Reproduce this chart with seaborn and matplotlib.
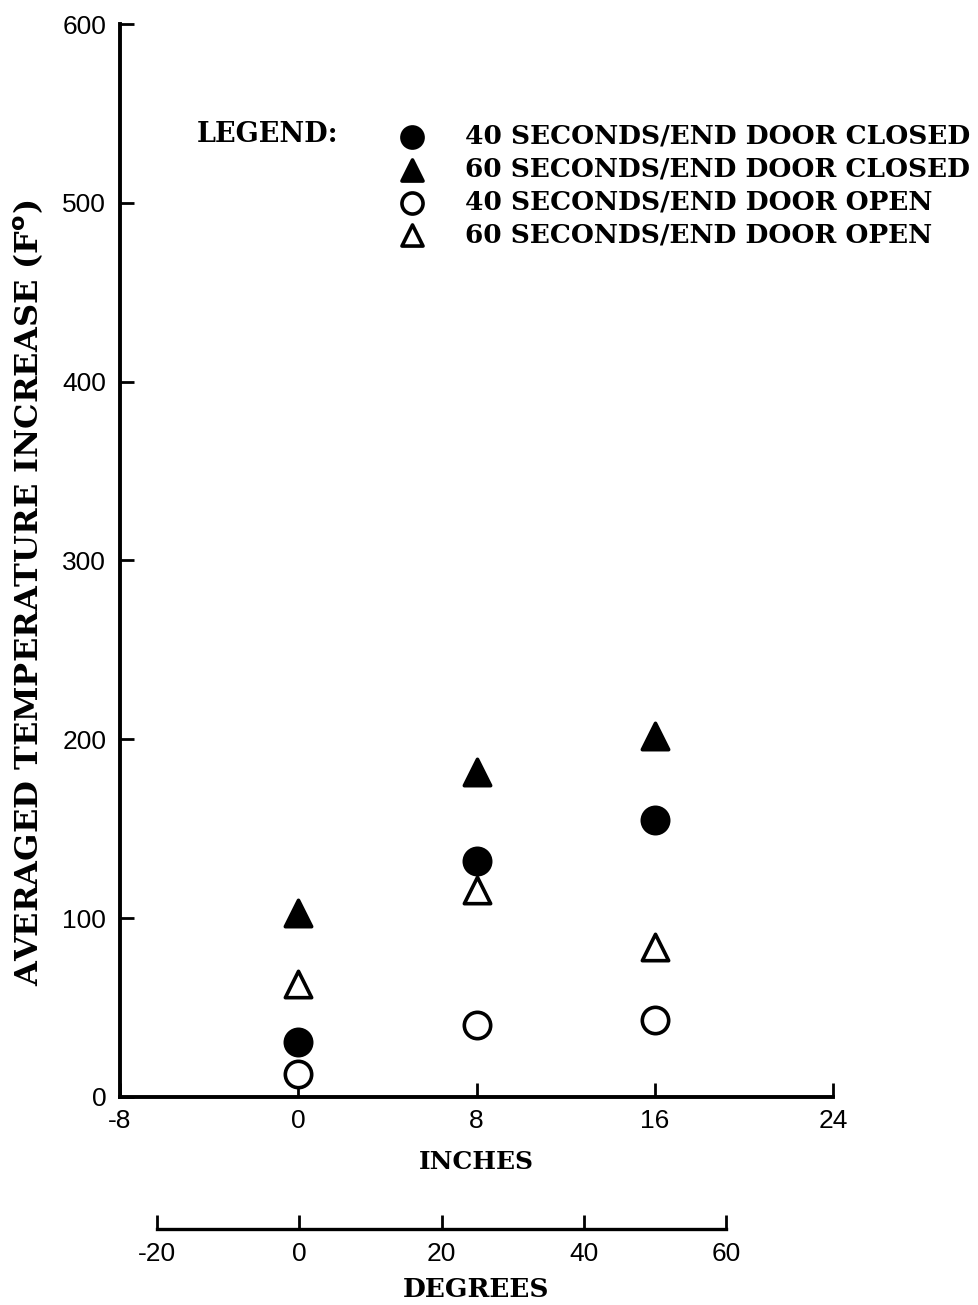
import pandas as pd
import seaborn as sns
import matplotlib.pyplot as plt

# valores
inches = [0, 8, 16]
closed_40 = [31, 132, 155]
closed_60 = [103, 182, 202]
open_40 = [13, 40, 43]
open_60 = [63, 116, 84]

series_labels = [
    "40 SECONDS/END DOOR CLOSED",
    "60 SECONDS/END DOOR CLOSED",
    "40 SECONDS/END DOOR OPEN",
    "60 SECONDS/END DOOR OPEN",
]
series_values = [closed_40, closed_60, open_40, open_60]
series_markers = ["o", "^", "o", "^"]
series_fill = ["black", "black", "white", "white"]

inch_ticks = [-8, 0, 8, 16, 24]
temp_ticks = [0, 100, 200, 300, 400, 500, 600]
degree_ticks = [-20, 0, 20, 40, 60]

rows = []
for lab, vals in zip(series_labels, series_values):
    for x, y in zip(inches, vals):
        rows.append({"inches": x, "temp": y, "serie": lab})
df = pd.DataFrame(rows)

sns.set_style("white")
plt.rcParams["font.family"] = ["DejaVu Serif"]
plt.rcParams["font.weight"] = "bold"
plt.rcParams["text.color"] = "black"
plt.rcParams["axes.labelcolor"] = "black"
plt.rcParams["axes.labelweight"] = "bold"
plt.rcParams["xtick.color"] = "black"
plt.rcParams["ytick.color"] = "black"

num_font = dict(family="Liberation Sans", fontsize=19, weight="normal")

fig = plt.figure(figsize=(9.79, 13.05), dpi=100)
ax = fig.add_axes([0.1226, 0.1594, 0.7283, 0.8222])

for lab, mk, fc in zip(series_labels, series_markers, series_fill):
    sub = df[df["serie"] == lab]
    sns.scatterplot(data=sub, x="inches", y="temp", marker=mk, s=360,
                    facecolor=fc, edgecolor="black", linewidth=2.6,
                    label=lab, ax=ax, zorder=3)

ax.set_xlim(-8, 24)
ax.set_ylim(0, 600)
ax.set_xticks(inch_ticks)
ax.set_yticks(temp_ticks)
ax.set_xticklabels([str(t) for t in inch_ticks], **num_font)
ax.set_yticklabels([str(t) for t in temp_ticks], **num_font)
ax.tick_params(direction="in", length=10, width=2, colors="black")
ax.tick_params(axis="x", pad=9)
ax.tick_params(axis="y", pad=10)
ax.xaxis.set_ticks_position("bottom")
ax.yaxis.set_ticks_position("left")
for s in ["top", "right"]:
    ax.spines[s].set_visible(False)
for s in ["left", "bottom"]:
    ax.spines[s].set_linewidth(2.8)
    ax.spines[s].set_color("black")

ax.set_xlabel("INCHES", fontsize=18, labelpad=12)
ax.set_ylabel("AVERAGED TEMPERATURE INCREASE (F$^\\mathbf{o}$)", fontsize=23)
ax.yaxis.set_label_coords(-0.104, 0.47)

leg = ax.legend(loc="upper left", bbox_to_anchor=(0.358, 0.917), frameon=False,
                prop=dict(family="DejaVu Serif", weight="bold", size=19),
                handlelength=2.0, handletextpad=1.0, labelspacing=0.3,
                markerscale=0.8, borderaxespad=0)
ax.text(0.108, 0.8966, "LEGEND:", transform=ax.transAxes, fontsize=19.5,
        ha="left", va="center")

# eje secundario en grados
ax2 = fig.add_axes([0.1226, 0.0582, 0.7283, 0.001])
ax2.set_xlim(-25.2, 75.0)
ax2.set_ylim(0, 1)
ax2.set_xticks(degree_ticks)
ax2.set_xticklabels([str(t) for t in degree_ticks], **num_font)
ax2.set_yticks([])
ax2.tick_params(axis="x", direction="in", length=10, width=2, pad=9, colors="black")
ax2.xaxis.set_ticks_position("bottom")
for s in ["top", "right", "left"]:
    ax2.spines[s].set_visible(False)
ax2.spines["bottom"].set_bounds(-20, 60)
ax2.spines["bottom"].set_linewidth(2.4)
ax2.spines["bottom"].set_color("black")
ax2.set_facecolor("none")
ax2.set_xlabel("DEGREES", fontsize=19, labelpad=8)

fig.savefig("out.png", dpi=100)
